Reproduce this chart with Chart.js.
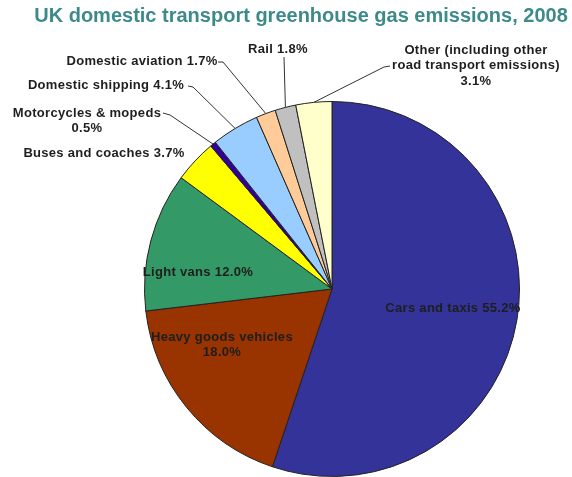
<!DOCTYPE html>
<html>
<head>
<meta charset="utf-8">
<script src="https://cdn.jsdelivr.net/npm/chart.js@4/dist/chart.umd.min.js"></script>
<style>
  html, body { margin: 0; padding: 0; background: #fff; }
</style>
</head>
<body>
<canvas id="pieChart" width="572" height="477"></canvas>
<script>
const chartTitle = 'UK domestic transport greenhouse gas emissions, 2008';
const categories = ['Cars and taxis', 'Heavy goods vehicles', 'Light vans', 'Buses and coaches',
    'Motorcycles & mopeds', 'Domestic shipping', 'Domestic aviation', 'Rail',
    'Other (including other road transport emissions)'];
const shares = [55.2, 18.0, 12.0, 3.7, 0.5, 4.1, 1.7, 1.8, 3.1];
const sliceColors = ['#333399', '#993300', '#339966', '#ffff00', '#330099', '#99ccff', '#ffcc99', '#c0c0c0', '#ffffcc'];

// where each label sits; {v} is replaced by the share, lead = leader line start
const labelSpots = [
    { lines: ['Cars and taxis {v}'], x: 453, y: 308 },
    { lines: ['Heavy goods vehicles', '{v}'], x: 222, y: 337 },
    { lines: ['Light vans {v}'], x: 198, y: 272 },
    { lines: ['Buses and coaches {v}'], x: 104, y: 153 },
    { lines: ['Motorcycles & mopeds', '{v}'], x: 87, y: 113, lead: [[163, 113], [170, 115]] },
    { lines: ['Domestic shipping {v}'], x: 106, y: 85, lead: [[188, 86], [193, 87]] },
    { lines: ['Domestic aviation {v}'], x: 142, y: 61, lead: [[218, 62], [223, 62]] },
    { lines: ['Rail {v}'], x: 278, y: 49, lead: [[284, 57]] },
    { lines: ['Other (including other', 'road transport emissions)', '{v}'], x: 476, y: 50, lead: [[390, 66], [384, 67]] },
];

const labelPlugin = {
    id: 'pieLabels',
    afterDatasetsDraw(chart) {
        const ctx = chart.ctx;
        const arcs = chart.getDatasetMeta(0).data;
        ctx.save();
        // leader lines
        ctx.strokeStyle = '#333';
        ctx.lineWidth = 1;
        labelSpots.forEach((spot, i) => {
            if (!spot.lead) return;
            const a = arcs[i];
            const mid = (a.startAngle + a.endAngle) / 2;
            const ex = a.x + Math.cos(mid) * a.outerRadius;
            const ey = a.y + Math.sin(mid) * a.outerRadius;
            ctx.beginPath();
            ctx.moveTo(spot.lead[0][0], spot.lead[0][1]);
            spot.lead.slice(1).forEach(p => ctx.lineTo(p[0], p[1]));
            ctx.lineTo(ex, ey);
            ctx.stroke();
        });
        // texts
        ctx.fillStyle = '#1e1e1e';
        ctx.font = 'bold 13px "Liberation Sans", Arial, sans-serif';
        ctx.letterSpacing = '0.3px';
        ctx.textAlign = 'center';
        ctx.textBaseline = 'middle';
        labelSpots.forEach((spot, i) => {
            spot.lines.forEach((ln, k) => {
                const txt = ln.replace('{v}', shares[i].toFixed(1) + '%');
                ctx.fillText(txt, spot.x, spot.y + k * 15.5);
            });
        });
        // title
        ctx.fillStyle = '#3d8a8a';
        ctx.letterSpacing = '0px';
        ctx.font = 'bold 20px "Liberation Sans", Arial, sans-serif';
        ctx.fillText(chartTitle, 301, 16);
        ctx.restore();
    }
};

new Chart(document.getElementById('pieChart').getContext('2d'), {
    type: 'pie',
    data: {
        labels: categories,
        datasets: [{
            data: shares,
            backgroundColor: sliceColors,
            borderColor: '#222',
            borderWidth: 1,
        }]
    },
    options: {
        responsive: false,
        animation: false,
        devicePixelRatio: 1,
        layout: { padding: { left: 144, right: 52, top: 101, bottom: 0 } },
        plugins: {
            legend: { display: false },
            tooltip: { enabled: false },
            title: { display: false },
        }
    },
    plugins: [labelPlugin]
});
</script>
</body>
</html>
